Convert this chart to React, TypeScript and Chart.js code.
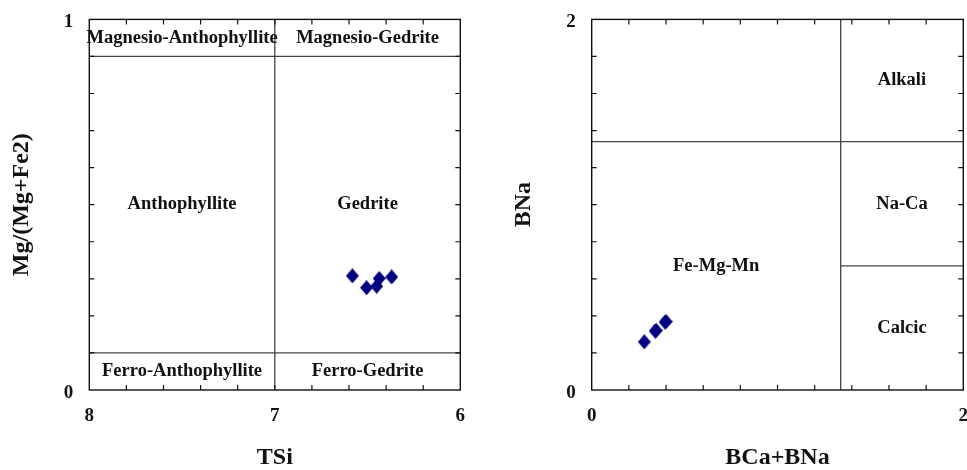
import { useEffect, useRef } from "react";
import { Chart, registerables } from "chart.js";

Chart.register(...registerables);

const SERIF = "'Liberation Serif', 'Times New Roman', Times, serif";
const NAVY = "#000080";

// ---- Left diagram: TSi vs Mg/(Mg+Fe2) ----
const tsiValues = [6.582, 6.505, 6.451, 6.437, 6.37];
const mgRatioValues = [0.308, 0.276, 0.28, 0.301, 0.305];
const leftXRange = [8, 6];
const leftYRange = [0, 1];
const leftRegionNames = [
  "Magnesio-Anthophyllite",
  "Magnesio-Gedrite",
  "Anthophyllite",
  "Gedrite",
  "Ferro-Anthophyllite",
  "Ferro-Gedrite",
];
const leftRegionX = [7.5, 6.5, 7.5, 6.5, 7.5, 6.5];
const leftRegionY = [0.95, 0.95, 0.5, 0.5, 0.05, 0.05];
const leftBoundaries = [
  [8, 0.9, 6, 0.9],
  [8, 0.1, 6, 0.1],
  [7, 0, 7, 1],
];

// ---- Right diagram: BCa+BNa vs BNa ----
const bCaNaValues = [0.283, 0.342, 0.347, 0.395, 0.4];
const bNaValues = [0.26, 0.318, 0.322, 0.366, 0.37];
const rightXRange = [0, 2];
const rightYRange = [0, 2];
const rightRegionNames = ["Alkali", "Na-Ca", "Calcic", "Fe-Mg-Mn"];
const rightRegionX = [1.67, 1.67, 1.67, 0.67];
const rightRegionY = [1.67, 1.005, 0.335, 0.67];
const rightBoundaries = [
  [0, 1.34, 2, 1.34],
  [1.34, 0, 1.34, 2],
  [1.34, 0.67, 2, 0.67],
];

function makeDiamond(w: number, h: number, color: string) {
  const c = document.createElement("canvas");
  c.width = w;
  c.height = h;
  const g = c.getContext("2d")!;
  g.fillStyle = color;
  g.beginPath();
  g.moveTo(w / 2, 0);
  g.lineTo(w, h / 2);
  g.lineTo(w / 2, h);
  g.lineTo(0, h / 2);
  g.closePath();
  g.fill();
  return c;
}

const decorPlugin = {
  id: "decor",
  beforeDatasetsDraw(chart: any, _args: any, opts: any) {
    const { ctx, chartArea: a } = chart;
    const xs = chart.scales.x;
    const ys = chart.scales.y;
    ctx.save();
    // region boundaries
    ctx.strokeStyle = "#444";
    ctx.lineWidth = 1.3;
    for (const [x1, y1, x2, y2] of opts.lines) {
      ctx.beginPath();
      ctx.moveTo(xs.getPixelForValue(x1), ys.getPixelForValue(y1));
      ctx.lineTo(xs.getPixelForValue(x2), ys.getPixelForValue(y2));
      ctx.stroke();
    }
    // inward minor ticks on all four sides
    ctx.strokeStyle = "#111";
    ctx.lineWidth = 1.2;
    const tl = 5;
    const xmin = Math.min(xs.min, xs.max);
    const nx = Math.round(Math.abs(xs.max - xs.min) / opts.xStep);
    for (let i = 1; i < nx; i++) {
      const px = xs.getPixelForValue(xmin + i * opts.xStep);
      ctx.beginPath();
      ctx.moveTo(px, a.bottom);
      ctx.lineTo(px, a.bottom - tl);
      ctx.moveTo(px, a.top);
      ctx.lineTo(px, a.top + tl);
      ctx.stroke();
    }
    const ny = Math.round(Math.abs(ys.max - ys.min) / opts.yStep);
    for (let i = 1; i < ny; i++) {
      const py = ys.getPixelForValue(ys.min + i * opts.yStep);
      ctx.beginPath();
      ctx.moveTo(a.left, py);
      ctx.lineTo(a.left + tl, py);
      ctx.moveTo(a.right, py);
      ctx.lineTo(a.right - tl, py);
      ctx.stroke();
    }
    // frame
    ctx.strokeStyle = "#111";
    ctx.lineWidth = 1.4;
    ctx.strokeRect(a.left, a.top, a.right - a.left, a.bottom - a.top);
    // region names
    ctx.fillStyle = "#111";
    ctx.font = `bold 18.5px ${SERIF}`;
    ctx.textAlign = "center";
    ctx.textBaseline = "middle";
    opts.names.forEach((n: string, i: number) => {
      ctx.fillText(n, xs.getPixelForValue(opts.lx[i]), ys.getPixelForValue(opts.ly[i]));
    });
    ctx.restore();
  },
};

function buildConfig(p: any) {
  const diamond = makeDiamond(13, 15, NAVY);
  const tickFont = { family: SERIF, size: 19, weight: "bold" as const };
  const titleFont = { family: SERIF, size: 24, weight: "bold" as const };
  return {
    type: "scatter" as const,
    data: {
      datasets: [
        {
          data: p.xs.map((v: number, i: number) => ({ x: v, y: p.ys[i] })),
          pointStyle: diamond,
          pointRadius: 7,
          backgroundColor: NAVY,
          borderColor: NAVY,
        },
      ],
    },
    options: {
      responsive: false,
      animation: false as const,
      events: [],
      layout: { padding: { top: p.padTop, right: p.padRight, left: 0, bottom: 0 } },
      plugins: {
        legend: { display: false },
        tooltip: { enabled: false },
        decor: {
          lines: p.lines,
          names: p.names,
          lx: p.lx,
          ly: p.ly,
          xStep: p.xStep,
          yStep: p.yStep,
        },
      },
      scales: {
        x: {
          type: "linear" as const,
          position: "bottom" as const,
          min: Math.min(p.xRange[0], p.xRange[1]),
          max: Math.max(p.xRange[0], p.xRange[1]),
          reverse: p.xRange[0] > p.xRange[1],
          grid: { display: false },
          border: { display: false },
          ticks: {
            stepSize: p.xLabelStep,
            font: tickFont,
            color: "#111",
            padding: 7,
            maxRotation: 0,
            autoSkip: false,
          },
          title: {
            display: true,
            text: p.xTitle,
            font: titleFont,
            color: "#111",
            padding: { top: 0, bottom: -2 },
          },
          afterFit: (s: any) => {
            s.height = 80;
          },
        },
        y: {
          type: "linear" as const,
          position: "left" as const,
          min: p.yRange[0],
          max: p.yRange[1],
          grid: { display: false },
          border: { display: false },
          ticks: {
            stepSize: p.yLabelStep,
            font: tickFont,
            color: "#111",
            padding: 8,
            labelOffset: 3,
            autoSkip: false,
          },
          title: {
            display: true,
            text: p.yTitle,
            font: titleFont,
            color: "#111",
            padding: { top: p.yTitlePad, bottom: 0 },
          },
          afterFit: (s: any) => {
            s.width = p.yAxisWidth;
          },
        },
      },
    },
    plugins: [decorPlugin],
  };
}

export default function App() {
  const leftRef = useRef<HTMLCanvasElement>(null);
  const rightRef = useRef<HTMLCanvasElement>(null);

  useEffect(() => {
    const leftChart = new Chart(
      leftRef.current!,
      buildConfig({
        xs: tsiValues,
        ys: mgRatioValues,
        xRange: leftXRange,
        yRange: leftYRange,
        xLabelStep: 1,
        yLabelStep: 1,
        xStep: 0.2,
        yStep: 0.1,
        xTitle: "TSi",
        yTitle: "Mg/(Mg+Fe2)",
        names: leftRegionNames,
        lx: leftRegionX,
        ly: leftRegionY,
        lines: leftBoundaries,
        padTop: 19.3,
        padRight: 19.7,
        yAxisWidth: 89.3,
        yTitlePad: 7.5,
      }) as any
    );
    const rightChart = new Chart(
      rightRef.current!,
      buildConfig({
        xs: bCaNaValues,
        ys: bNaValues,
        xRange: rightXRange,
        yRange: rightYRange,
        xLabelStep: 2,
        yLabelStep: 2,
        xStep: 0.2,
        yStep: 0.2,
        xTitle: "BCa+BNa",
        yTitle: "BNa",
        names: rightRegionNames,
        lx: rightRegionX,
        ly: rightRegionY,
        lines: rightBoundaries,
        padTop: 19.3,
        padRight: 16.7,
        yAxisWidth: 91.7,
        yTitlePad: 9.8,
      }) as any
    );
    return () => {
      leftChart.destroy();
      rightChart.destroy();
    };
  }, []);

  return (
    <div
      style={{
        position: "fixed",
        left: 0,
        top: 0,
        width: 967,
        height: 470,
        background: "#fff",
        overflow: "hidden",
      }}
    >
      <canvas
        ref={leftRef}
        width={480}
        height={470}
        style={{ position: "absolute", left: 0, top: 0, width: 480, height: 470 }}
      />
      <canvas
        ref={rightRef}
        width={480}
        height={470}
        style={{ position: "absolute", left: 500, top: 0, width: 480, height: 470 }}
      />
    </div>
  );
}
